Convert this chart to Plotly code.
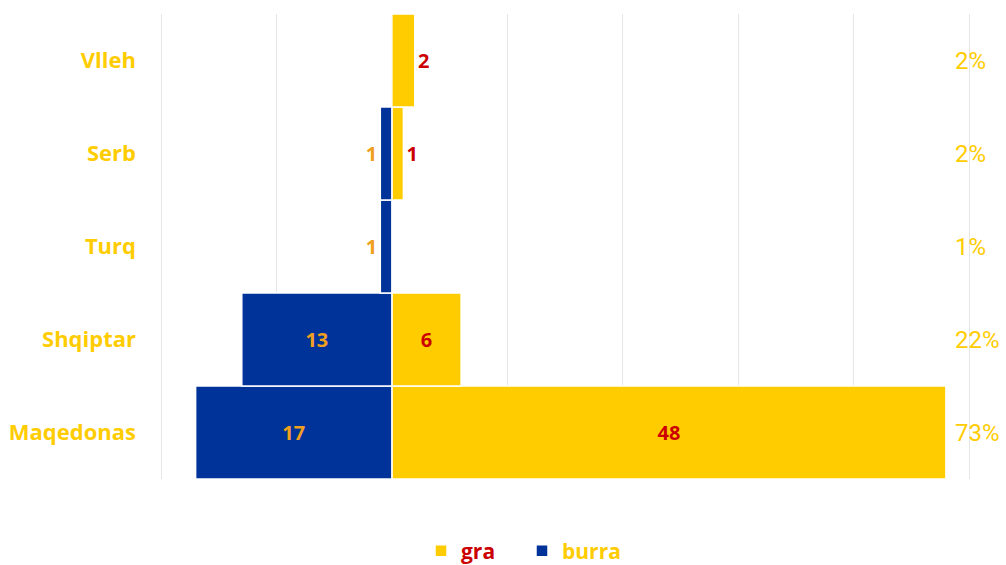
import plotly.graph_objects as go

categories = ["Maqedonas", "Shqiptar", "Turq", "Serb", "Vlleh"]
gra = [48, 6, 0, 1, 2]
burra = [17, 13, 1, 1, 0]
shares = ["73%", "22%", "1%", "2%", "2%"]

YELLOW = "#FFCC00"
BLUE = "#003399"
RED = "#CC0000"
ORANGE = "#F0A01E"
LABEL = "#FFCC00"

W, H = 1006, 565
L, R, T, B = 158, 34, 14, 86
pw, ph = W - L - R, H - T - B

def txt(vals):
    return [str(v) if v else "" for v in vals]

def pos(vals):
    return ["inside" if v >= 5 else "outside" for v in vals]

fig = go.Figure()
fig.add_trace(go.Bar(
    y=categories, x=gra, orientation="h",
    name="<span style='color:%s'>gra</span>" % RED,
    marker=dict(color=YELLOW, line=dict(color="white", width=1.5)),
    text=txt(gra), textposition=pos(gra), insidetextanchor="middle",
    textfont=dict(family="Open Sans", size=20, color=RED, weight="bold"),
    cliponaxis=False, hoverinfo="skip",
))
fig.add_trace(go.Bar(
    y=categories, x=[-v for v in burra], orientation="h",
    name="<span style='color:%s'>burra</span>" % LABEL,
    marker=dict(color=BLUE, line=dict(color="white", width=1.5)),
    text=txt(burra), textposition=pos(burra), insidetextanchor="middle",
    textfont=dict(family="Open Sans", size=20, color=ORANGE, weight="bold"),
    cliponaxis=False, hoverinfo="skip",
))

for c, s in zip(categories, shares):
    fig.add_annotation(
        x=(953 - L) / pw, xref="paper", y=c, yref="y",
        text=s, showarrow=False, xanchor="left",
        font=dict(family="Roboto", size=24, color=LABEL),
    )

fig.update_layout(
    width=W, height=H,
    margin=dict(l=L, r=R, t=T, b=B, autoexpand=False),
    paper_bgcolor="white", plot_bgcolor="white",
    barmode="relative", bargap=0,
    uniformtext=dict(mode="show", minsize=10),
    xaxis=dict(range=[-20.26, 50.26], dtick=10, showticklabels=False,
               showgrid=True, gridcolor="#E6E6E6", gridwidth=1,
               zeroline=True, zerolinecolor="#D9D9D9", zerolinewidth=1,
               showline=False, fixedrange=True),
    yaxis=dict(categoryorder="array", categoryarray=categories,
               showgrid=False, showline=False, ticks="",
               ticklabelstandoff=21,
               tickfont=dict(family="Open Sans", size=22, color=LABEL, weight="bold"),
               fixedrange=True),
    legend=dict(orientation="h", x=(421 - L) / pw, xanchor="left",
                y=(T + ph - 551) / ph, yanchor="middle",
                traceorder="normal",
                font=dict(family="Open Sans", size=21, weight="bold"),
                entrywidth=56, entrywidthmode="pixels"),
    showlegend=True,
)

fig.write_html("out.html",
               config={"displayModeBar": False, "staticPlot": True},
               post_script="document.body.style.margin='0px';"
                           "document.body.style.overflow='hidden';")
